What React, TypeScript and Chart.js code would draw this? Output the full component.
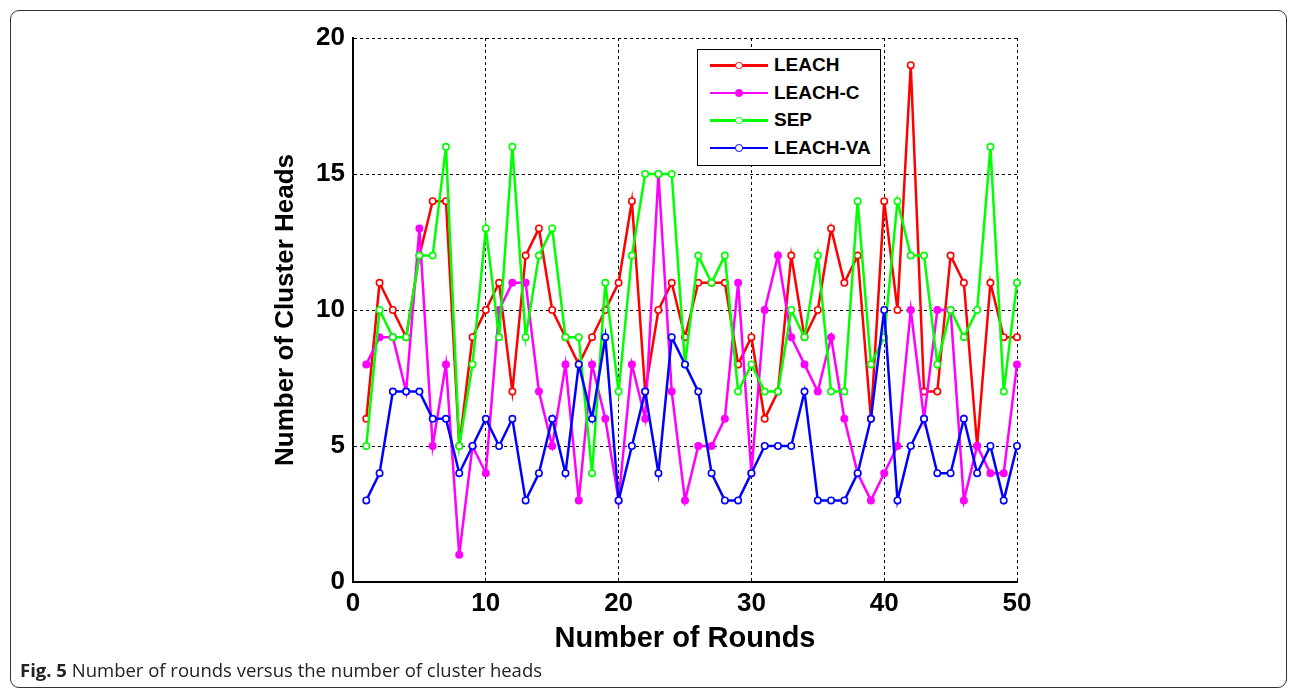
import React, { useEffect, useRef } from "react";
import { Chart, registerables } from "chart.js";

Chart.register(...registerables);

const rounds = [
  1, 2, 3, 4, 5, 6, 7, 8, 9, 10,
  11, 12, 13, 14, 15, 16, 17, 18, 19, 20,
  21, 22, 23, 24, 25, 26, 27, 28, 29, 30,
  31, 32, 33, 34, 35, 36, 37, 38, 39, 40,
  41, 42, 43, 44, 45, 46, 47, 48, 49, 50,
];

const leach = [
  6, 11, 10, 9, 12, 14, 14, 5, 9, 10,
  11, 7, 12, 13, 10, 9, 8, 9, 10, 11,
  14, 7, 10, 11, 9, 11, 11, 11, 8, 9,
  6, 7, 12, 9, 10, 13, 11, 12, 6, 14,
  10, 19, 7, 7, 12, 11, 5, 11, 9, 9,
];

const leachC = [
  8, 9, 9, 7, 13, 5, 8, 1, 5, 4,
  10, 11, 11, 7, 5, 8, 3, 8, 6, 3,
  8, 6, 15, 7, 3, 5, 5, 6, 11, 4,
  10, 12, 9, 8, 7, 9, 6, 4, 3, 4,
  5, 10, 6, 10, 10, 3, 5, 4, 4, 8,
];

const sep = [
  5, 10, 9, 9, 12, 12, 16, 5, 8, 13,
  9, 16, 9, 12, 13, 9, 9, 4, 11, 7,
  12, 15, 15, 15, 8, 12, 11, 12, 7, 8,
  7, 7, 10, 9, 12, 7, 7, 14, 8, 9,
  14, 12, 12, 8, 10, 9, 10, 16, 7, 11,
];

const leachVA = [
  3, 4, 7, 7, 7, 6, 6, 4, 5, 6,
  5, 6, 3, 4, 6, 4, 8, 6, 9, 3,
  5, 7, 4, 9, 8, 7, 4, 3, 3, 4,
  5, 5, 5, 7, 3, 3, 3, 4, 6, 10,
  3, 5, 6, 4, 4, 6, 4, 5, 3, 5,
];

const seriesNames = ["LEACH", "LEACH-C", "SEP", "LEACH-VA"];
const seriesColors = ["#ff0000", "#ff00ff", "#00ff00", "#0000ff"];
const seriesFills = ["#ffffff", "#ff00ff", "#ffffff", "#ffffff"];
const seriesValues = [leach, leachC, sep, leachVA];

const xTitle = "Number of Rounds";
const yTitle = "Number of Cluster Heads";
const captionBold = "Fig. 5";
const captionText = " Number of rounds versus the number of cluster heads";

const axisFont = "'Liberation Sans', Arial, sans-serif";

export default function App() {
  const canvasRef = useRef<HTMLCanvasElement | null>(null);

  useEffect(() => {
    const canvas = canvasRef.current;
    if (!canvas) return;
    const datasets = seriesValues.map((vals, i) => ({
      label: seriesNames[i],
      data: rounds.map((r, j) => ({ x: r, y: vals[j] })),
      borderColor: seriesColors[i],
      backgroundColor: seriesColors[i],
      pointBackgroundColor: seriesFills[i],
      pointBorderColor: seriesColors[i],
      borderWidth: 2.5,
      pointRadius: 3.2,
      pointBorderWidth: 1.6,
      tension: 0,
      clip: false as any,
      order: seriesValues.length - 1 - i,
    }));

    const chart = new Chart(canvas, {
      type: "line",
      data: { datasets },
      options: {
        animation: false,
        responsive: false,
        devicePixelRatio: 1,
        layout: { padding: { left: 270, right: 279, top: 38, bottom: 41 } },
        plugins: { legend: { display: false }, tooltip: { enabled: false } },
        scales: {
          x: {
            type: "linear",
            min: 0,
            max: 50,
            ticks: {
              stepSize: 10,
              color: "#000",
              padding: 6,
              maxRotation: 0,
              font: { family: axisFont, size: 26, weight: "bold" },
            },
            grid: { color: "#000", lineWidth: 1, drawTicks: false },
            border: { color: "#000", width: 2, dash: [3, 3] },
            title: {
              display: true,
              text: xTitle,
              color: "#000",
              padding: 0,
              font: { family: axisFont, size: 29, weight: "bold" },
            },
            afterFit: (s: any) => {
              s.height = 74;
            },
          },
          y: {
            type: "linear",
            min: 0,
            max: 20,
            ticks: {
              stepSize: 5,
              color: "#000",
              padding: 8,
              font: { family: axisFont, size: 26, weight: "bold" },
            },
            grid: { color: "#000", lineWidth: 1, drawTicks: false },
            border: { color: "#000", width: 2, dash: [3, 3] },
            title: {
              display: true,
              text: yTitle,
              color: "#000",
              padding: 0,
              font: { family: axisFont, size: 26, weight: "bold" },
            },
            afterFit: (s: any) => {
              s.width = 83;
            },
          },
        },
      },
    });
    return () => chart.destroy();
  }, []);

  return (
    <div
      style={{
        position: "absolute",
        left: 0,
        top: 0,
        width: 1296,
        height: 697,
        background: "#fff",
        overflow: "hidden",
      }}
    >
      <div
        style={{
          position: "absolute",
          left: 10,
          top: 10,
          width: 1277,
          height: 678,
          boxSizing: "border-box",
          border: "1px solid #333",
          borderRadius: 9,
        }}
      />
      <canvas
        ref={canvasRef}
        width={1296}
        height={697}
        style={{ position: "absolute", left: 0, top: 0, width: 1296, height: 697 }}
      />
      <div
        style={{
          position: "absolute",
          left: 697,
          top: 49,
          width: 184,
          height: 117,
          boxSizing: "border-box",
          border: "1.5px solid #000",
          background: "#fff",
        }}
      >
        {seriesNames.map((name, i) => (
          <div
            key={name}
            style={{
              position: "absolute",
              left: 0,
              top: 15 + i * 27.5 - 14,
              height: 28,
              width: "100%",
            }}
          >
            <div
              style={{
                position: "absolute",
                left: 12,
                top: 13,
                width: 58,
                height: 2.5,
                background: seriesColors[i],
              }}
            />
            <div
              style={{
                position: "absolute",
                left: 37,
                top: 10.5,
                width: 7.5,
                height: 7.5,
                boxSizing: "border-box",
                borderRadius: "50%",
                border: `1.6px solid ${seriesColors[i]}`,
                background: seriesFills[i],
              }}
            />
            <div
              style={{
                position: "absolute",
                left: 76,
                top: 0,
                lineHeight: "28px",
                fontFamily: axisFont,
                fontWeight: "bold",
                fontSize: 19,
                color: "#000",
                whiteSpace: "nowrap",
              }}
            >
              {name}
            </div>
          </div>
        ))}
      </div>
      <div
        style={{
          position: "absolute",
          left: 20,
          top: 657,
          fontFamily: "'Open Sans', sans-serif",
          fontSize: 18.5,
          color: "#222",
          whiteSpace: "nowrap",
          lineHeight: "26px",
        }}
      >
        <b>{captionBold}</b>
        {captionText}
      </div>
    </div>
  );
}
